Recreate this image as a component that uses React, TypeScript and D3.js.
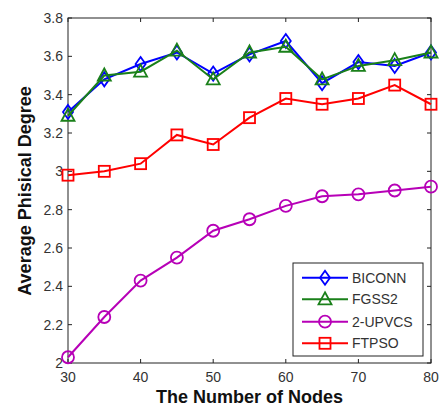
import React from "react";
import * as d3 from "d3";

const nodes = [30, 35, 40, 45, 50, 55, 60, 65, 70, 75, 80];
const biconn = [3.31, 3.48, 3.56, 3.62, 3.51, 3.61, 3.68, 3.46, 3.57, 3.55, 3.62];
const fgss2 = [3.29, 3.50, 3.52, 3.63, 3.48, 3.62, 3.65, 3.48, 3.55, 3.58, 3.62];
const upvcs = [2.03, 2.24, 2.43, 2.55, 2.69, 2.75, 2.82, 2.87, 2.88, 2.90, 2.92];
const ftpso = [2.98, 3.0, 3.04, 3.19, 3.14, 3.28, 3.38, 3.35, 3.38, 3.45, 3.35];

const xTicks = [30, 40, 50, 60, 70, 80];
const yTicks = [2, 2.2, 2.4, 2.6, 2.8, 3, 3.2, 3.4, 3.6, 3.8];

type Marker = "diamond" | "triangle" | "circle" | "square";
const seriesList: { name: string; values: number[]; color: string; marker: Marker }[] = [
  { name: "BICONN", values: biconn, color: "#0000ff", marker: "diamond" },
  { name: "FGSS2", values: fgss2, color: "#1a801a", marker: "triangle" },
  { name: "2-UPVCS", values: upvcs, color: "#b700b7", marker: "circle" },
  { name: "FTPSO", values: ftpso, color: "#ff0000", marker: "square" },
];

const W = 448;
const H = 409;
const left = 68, right = 431, top = 18, bottom = 363;

const x = d3.scaleLinear().domain([30, 80]).range([left, right]);
const y = d3.scaleLinear().domain([2, 3.8]).range([bottom, top]);

function markerShape(m: Marker, cx: number, cy: number, color: string, key: string) {
  const common = { fill: "none", stroke: color, strokeWidth: 1.8 };
  if (m === "circle") return <circle key={key} cx={cx} cy={cy} r={6} {...common} />;
  if (m === "square") return <rect key={key} x={cx - 5.5} y={cy - 5.5} width={11} height={11} {...common} />;
  if (m === "diamond")
    return <path key={key} d={`M${cx},${cy - 7}L${cx + 5},${cy}L${cx},${cy + 7}L${cx - 5},${cy}Z`} {...common} />;
  return <path key={key} d={`M${cx},${cy - 7}L${cx + 6.5},${cy + 5}L${cx - 6.5},${cy + 5}Z`} {...common} />;
}

export default function App() {
  const line = d3
    .line<number>()
    .x((_, i) => x(nodes[i]))
    .y((v) => y(v));
  const font = "Arial, 'Liberation Sans', sans-serif";
  const legendRows = [277.7, 299.3, 321.7, 343.3];
  return (
    <svg width={W} height={H} style={{ position: "absolute", left: 0, top: 0, background: "#fff" }}>
      <rect x={0} y={0} width={W} height={H} fill="#fff" />
      {/* ticks pointing inward on all four sides */}
      {xTicks.map((t) => (
        <g key={"xt" + t}>
          <line x1={x(t)} x2={x(t)} y1={bottom} y2={bottom - 4} stroke="#222" />
          <line x1={x(t)} x2={x(t)} y1={top} y2={top + 4} stroke="#222" />
          <text x={x(t)} y={382} textAnchor="middle" fontFamily={font} fontSize={14} fill="#333">
            {t}
          </text>
        </g>
      ))}
      {yTicks.map((t) => (
        <g key={"yt" + t}>
          <line x1={left} x2={left + 4} y1={y(t)} y2={y(t)} stroke="#222" />
          <line x1={right} x2={right - 4} y1={y(t)} y2={y(t)} stroke="#222" />
          <text x={63} y={y(t) + 5} textAnchor="end" fontFamily={font} fontSize={14} fill="#333">
            {d3.format("~g")(t)}
          </text>
        </g>
      ))}
      <rect x={left} y={top} width={right - left} height={bottom - top} fill="none" stroke="#222" strokeWidth={1} />
      {seriesList.map((s) => (
        <g key={s.name}>
          <path d={line(s.values) || ""} fill="none" stroke={s.color} strokeWidth={2} />
          {s.values.map((v, i) => markerShape(s.marker, x(nodes[i]), y(v), s.color, s.name + i))}
        </g>
      ))}
      {/* legend */}
      <rect x={293} y={263} width={130} height={93} fill="#fff" stroke="#222" strokeWidth={1} />
      {seriesList.map((s, i) => (
        <g key={"lg" + s.name}>
          <line x1={302} x2={348} y1={legendRows[i]} y2={legendRows[i]} stroke={s.color} strokeWidth={2} />
          {markerShape(s.marker, 325, legendRows[i], s.color, "lm" + i)}
          <text x={352} y={legendRows[i] + 5} fontFamily={font} fontSize={14} fill="#333">
            {s.name}
          </text>
        </g>
      ))}
      <text x={(left + right) / 2 + 0} y={403} textAnchor="middle" fontFamily={font} fontSize={18} fontWeight="bold" fill="#111">
        The Number of Nodes
      </text>
      <text
        transform={`translate(31,191) rotate(-90)`}
        textAnchor="middle"
        fontFamily={font}
        fontSize={18}
        fontWeight="bold"
        fill="#111"
      >
        Average Phisical Degree
      </text>
    </svg>
  );
}
